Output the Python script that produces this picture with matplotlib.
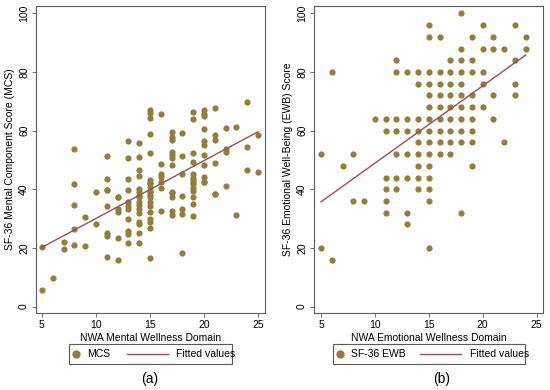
import matplotlib.pyplot as plt
import numpy as np
from matplotlib.lines import Line2D
from matplotlib.patches import Rectangle

plt.rcParams['font.family'] = ['Liberation Sans', 'DejaVu Sans']

# (a) NWA Mental Wellness Domain vs SF-36 MCS
mwd_x = [5, 5, 6, 7, 7, 8, 8, 8, 8, 8, 9, 9, 10, 10,
         11, 11, 11, 11, 11, 11, 11, 11,
         12, 12, 12, 12, 12, 12,
         13, 13, 13, 13, 13, 13, 13, 13, 13, 13, 13,
         14, 14, 14, 14, 14, 14, 14, 14, 14, 14, 14, 14, 14, 14, 14, 14,
         15, 15, 15, 15, 15, 15, 15, 15, 15, 15, 15, 15, 15, 15, 15, 15, 15, 15, 15, 15,
         16, 16, 16, 16, 16, 16, 16,
         17, 17, 17, 17, 17, 17, 17, 17, 17, 17, 17, 17,
         18, 18, 18, 18, 18, 18, 18,
         19, 19, 19, 19, 19, 19, 19, 19, 19, 19, 19, 19, 19, 19,
         20, 20, 20, 20, 20, 20, 20, 20, 20, 20, 20,
         21, 21, 21, 21, 21, 21,
         22, 22, 22, 22,
         23, 23,
         24, 24, 24,
         25, 25]
mcs = [20.2, 5.7, 9.9, 21.9, 19.7, 53.9, 41.8, 34.7, 26.5, 21.0, 30.7, 20.8, 39.1, 28.2,
       51.3, 43.6, 39.8, 34.4, 25.0, 24.2, 17.0, 39.6,
       37.4, 33.3, 32.4, 23.5, 15.9, 37.5,
       56.4, 50.5, 43.6, 39.8, 35.5, 34.3, 33.3, 29.8, 25.6, 24.7, 21.6,
       55.8, 51.0, 46.7, 44.4, 40.2, 39.0, 37.8, 35.8, 34.7, 33.3, 31.8, 28.8, 28.2, 25.0, 21.8, 37.4,
       67.2, 65.9, 64.2, 59.0, 52.2, 43.3, 42.1, 40.8, 39.3, 38.1, 35.8, 34.4, 32.2, 29.9, 28.8, 26.7, 16.5, 37.4, 39.1, 42.0,
       65.6, 48.7, 45.3, 44.2, 42.5, 40.3, 32.7,
       59.6, 57.9, 56.7, 52.7, 51.6, 50.5, 48.2, 39.0, 37.3, 32.7, 31.3, 38.7,
       59.2, 51.4, 45.3, 37.7, 33.3, 31.5, 18.4,
       66.2, 64.1, 52.4, 49.3, 45.3, 44.0, 43.2, 41.8, 40.5, 39.3, 37.5, 35.0, 30.9, 42.5,
       67.0, 65.8, 64.9, 60.7, 56.5, 55.0, 51.6, 48.2, 44.2, 42.6, 42.5,
       67.8, 58.4, 56.9, 49.0, 38.3, 38.3,
       61.0, 53.9, 52.7, 41.1,
       61.3, 31.3,
       69.6, 54.4, 46.7,
       58.4, 45.8]
fit_a_x = [5, 25]
fit_a_y = [20.2, 59.6]

# (b) NWA Emotional Wellness Domain vs SF-36 EWB
ewd_x = [5, 5, 6, 6, 7, 8, 8, 9, 10,
         11, 11, 11, 11, 11, 11,
         12, 12, 12, 12, 12, 12, 12,
         13, 13, 13, 13, 13, 13, 13,
         14, 14, 14, 14, 14, 14, 14, 14, 14,
         15, 15, 15, 15, 15, 15, 15, 15, 15, 15, 15, 15, 15, 15, 15,
         16, 16, 16, 16, 16, 16, 16, 16, 16,
         17, 17, 17, 17, 17, 17, 17, 17, 17,
         18, 18, 18, 18, 18, 18, 18, 18, 18, 18, 18,
         19, 19, 19, 19, 19, 19, 19, 19, 19,
         20, 20, 20, 20, 20,
         21, 21, 21, 21,
         22, 22,
         23, 23, 23, 23,
         24, 24]
ewb = [52, 20, 80, 16, 48, 52, 36, 36, 64,
       64, 60, 44, 40, 36, 32,
       84, 80, 64, 60, 52, 44, 40,
       80, 64, 60, 52, 44, 32, 28,
       80, 76, 64, 60, 56, 52, 48, 44, 40,
       96, 92, 80, 76, 72, 68, 64, 60, 56, 52, 48, 44, 40, 36, 20,
       92, 80, 76, 72, 68, 64, 60, 56, 52,
       84, 80, 76, 72, 68, 64, 60, 56, 52,
       100, 88, 84, 80, 76, 72, 68, 64, 60, 56, 32,
       92, 84, 80, 72, 68, 64, 60, 56, 48,
       96, 88, 80, 76, 68,
       92, 88, 72, 64,
       88, 56,
       96, 84, 76, 72,
       92, 88]
fit_b_x = [5, 24]
fit_b_y = [35.7, 85.8]

dot_color = '#927d3b'
line_color = '#9c4f52'
frame_color = '#5a5a5a'

W, H = 550, 390
fig = plt.figure(figsize=(5.5, 3.9), dpi=100)
ax1 = fig.add_axes([36 / W, 77 / H, 229 / W, 307 / H])
ax2 = fig.add_axes([314 / W, 77 / H, 229 / W, 307 / H])

# legend layout in pixels: box left/right, marker x, text x, line start/end, text2 x
panels = [
    (ax1, mwd_x, mcs, fit_a_x, fit_a_y, 'NWA Mental Wellness Domain',
     'SF-36 Mental Component Score (MCS)', 'MCS', (4.45, 25.65),
     (69, 232, 76, 87, 127, 168, 176), 150, '(a)'),
    (ax2, ewd_x, ewb, fit_b_x, fit_b_y, 'NWA Emotional Wellness Domain',
     'SF-36 Emotional Well-Being (EWB) Score', 'SF-36 EWB', (4.35, 25.6),
     (333, 525, 340, 351, 420, 461, 470), 442, '(b)'),
]


def fx(px):
    return px / W


def fy(py):
    return 1 - py / H


for ax, xs, ys, lx, ly, xlab, ylab, name, xlim, lg, cap_x, tag in panels:
    ax.scatter(xs, ys, s=20, color=dot_color, linewidths=0, zorder=2)
    ax.plot(lx, ly, color=line_color, lw=1.0, zorder=3)
    ax.set_xlim(*xlim)
    ax.set_ylim(-2.2, 102.5)
    ax.set_xticks([5, 10, 15, 20, 25])
    ax.set_yticks([0, 20, 40, 60, 80, 100])
    ax.tick_params(labelsize=7.5, length=3, width=0.6, color=frame_color, pad=2)
    for lbl in ax.get_yticklabels():
        lbl.set_rotation(90)
        lbl.set_va('center')
    for sp in ax.spines.values():
        sp.set_color(frame_color)
        sp.set_linewidth(0.8)
    ax.set_xlabel(xlab, fontsize=7.5, labelpad=2)
    ax.set_ylabel(ylab, fontsize=7.5, labelpad=3)

    # legend box drawn by hand (Stata style: short marker key, long line key)
    bl, br, mx, tx, l0, l1, tx2 = lg
    fig.add_artist(Rectangle((fx(bl), fy(364)), fx(br - bl), 20 / H,
                             transform=fig.transFigure, facecolor='white',
                             edgecolor=frame_color, lw=0.8))
    fig.add_artist(Line2D([fx(mx)], [fy(354)], marker='o', ls='none',
                          color=dot_color, markersize=5, transform=fig.transFigure))
    fig.text(fx(tx), fy(354), name, ha='left', va='center', fontsize=7.5)
    fig.add_artist(Line2D([fx(l0), fx(l1)], [fy(354), fy(354)], color=line_color,
                          lw=1.0, transform=fig.transFigure))
    fig.text(fx(tx2), fy(354), 'Fitted values', ha='left', va='center', fontsize=7.5)
    fig.text(fx(cap_x), fy(379), tag, ha='center', va='center', fontsize=10)

plt.savefig('out.png', dpi=100)
